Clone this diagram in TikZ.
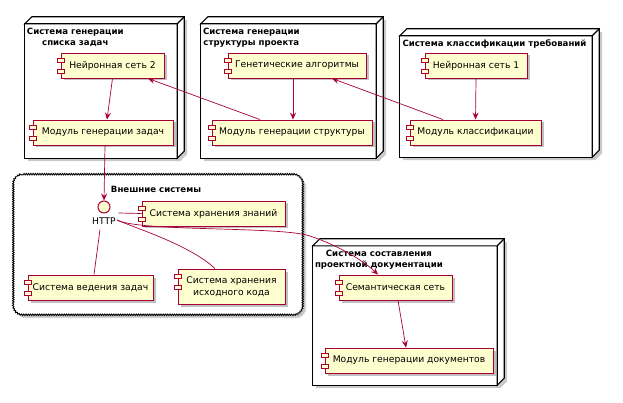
\documentclass[tikz,border=0pt]{standalone}
\usepackage{fontspec}
\setmainfont{DejaVu Sans}
\usetikzlibrary{arrows.meta,shadows,decorations.pathmorphing}
\definecolor{pumlred}{HTML}{A80036}
\definecolor{pumlfill}{HTML}{FEFECE}
\tikzset{
  comp/.style={draw=pumlred, fill=pumlfill, line width=0.9pt, inner sep=0pt,
    font=\fontsize{9.2}{11.5}\selectfont, align=center,
    drop shadow={shadow xshift=2.5pt, shadow yshift=-2.5pt, opacity=0.35, fill=black!70}},
  comprect/.style={draw=pumlred, fill=pumlfill, line width=0.7pt},
  nodebox/.style={draw=none, fill=none, inner sep=0pt},
  nodeface/.style={draw=black, fill=white, line width=1.1pt, line join=miter},
  nodeshadow/.style={fill=black!70, opacity=0.3},
  title/.style={font=\fontsize{8.6}{11}\selectfont\bfseries, align=center, inner sep=0pt, anchor=north west},
  link/.style={draw=pumlred, line width=0.7pt},
  arr/.style={link, -{Stealth[length=7pt,width=6pt,inset=2.5pt]}},
  iface/.style={circle, draw=pumlred, fill=pumlfill, line width=1pt, minimum size=12pt, inner sep=0pt},
  cloudline/.style={decorate, decoration={bumps, segment length=4.5pt, amplitude=1.5pt}},
}
\newcommand\mkcomp[6]{%
  \node[comp, minimum width={#4pt-#2pt}, minimum height={#5pt-#3pt}] (#1) at ({(#2+#4)/2},{(#3+#5)/2}) {#6};
  \draw[comprect] ([shift={(-3pt,-6pt)}]#1.north west) rectangle ++(7pt,-3.6pt);
  \draw[comprect] ([shift={(-3pt,-17pt)}]#1.north west) rectangle ++(7pt,-3.6pt);
}
\newcommand\mknode[5]{%
  \node[nodebox, minimum width={#4pt-#2pt}, minimum height={#5pt-#3pt}] (#1) at ({(#2+#4)/2},{(#3+#5)/2}) {};
  \fill[nodeshadow] ([shift={(3pt,-3pt)}]#1.north west) -- ([shift={(10pt,4pt)}]#1.north west) -- ([shift={(10pt,4pt)}]#1.north east) -- ([shift={(10pt,4pt)}]#1.south east) -- ([shift={(3pt,-3pt)}]#1.south east) -- ([shift={(3pt,-3pt)}]#1.south west) -- cycle;
  \draw[nodeface] (#1.north west) rectangle (#1.south east);
  \draw[nodeface] (#1.north west) -- ++(7pt,7pt) -- ([shift={(7pt,7pt)}]#1.north east) -- ([shift={(7pt,7pt)}]#1.south east) -- (#1.south east) -- (#1.north east) -- cycle;
  \draw[nodeface] (#1.north east) -- ([shift={(7pt,7pt)}]#1.north east);
}
% rounded cloud outline: x1 y1 x2 y2 (y downward), corner radius 9
\newcommand\cloudpath[4]{({#1+9},#2) -- ({#3-9},#2) arc[start angle=90, end angle=0, radius=9pt]
  -- (#3,{#4-9}) arc[start angle=0, end angle=-90, radius=9pt]
  -- ({#1+9},#4) arc[start angle=-90, end angle=-180, radius=9pt]
  -- (#1,{#2+9}) arc[start angle=180, end angle=90, radius=9pt] -- cycle}
\begin{document}
\begin{tikzpicture}[x=1pt, y=-1pt]
\useasboundingbox (0,0) rectangle (623,403);
% deployment nodes
\mknode{n1}{25}{24}{177}{158}
\mknode{n2}{201}{24}{376}{158}
\mknode{n3}{400}{36}{592}{157}
\mknode{n4}{313}{246}{497}{385}
\node[title] (t1) at ([shift={(2pt,-4pt)}]n1.north west) {Система генерации\\списка задач};
\node[title] (t2) at ([shift={(2pt,-4pt)}]n2.north west) {Система генерации\\структуры проекта};
\node[title] (t3) at ([shift={(2.5pt,-4pt)}]n3.north west) {Система классификации требований};
\node[title] (t4) at ([shift={(2pt,-4pt)}]n4.north west) {Система составления\\проектной документации};
% cloud
\fill[nodeshadow, cloudline] \cloudpath{17}{178}{305}{317};
\path[draw=black, line width=0.9pt, fill=white, cloudline] \cloudpath{14}{175}{302}{314};
\node[title, anchor=center] (t5) at (156,189) {Внешние системы};
% components
\mkcomp{c1}{61}{53}{164}{78}{Нейронная сеть 2}
\mkcomp{c2}{33}{120}{173}{145}{Модуль генерации задач}
\mkcomp{c3}{228}{53}{366}{78}{Генетические алгоритмы}
\mkcomp{c4}{212}{120}{372}{145}{Модуль генерации структуры}
\mkcomp{c5}{425}{53}{527}{78}{Нейронная сеть 1}
\mkcomp{c6}{410}{120}{541}{145}{Модуль классификации}
\mkcomp{c7}{142}{201}{285}{226}{Система хранения знаний}
\mkcomp{c8}{28}{275}{153}{300}{Система ведения задач}
\mkcomp{c9}{178}{269}{285}{304}{Система хранения\\исходного кода}
\mkcomp{c10}{339}{275}{452}{300}{Семантическая сеть}
\mkcomp{c11}{325}{348}{493}{373}{Модуль генерации документов}
% interface
\node[iface] (http) at (104,207) {};
\node[font=\fontsize{9.2}{11}\selectfont, inner sep=0pt] (httpl) at (104,221) {HTTP};
% connectors
\draw[arr] (c1.south) -- ([xshift=4pt]c2.north);
\draw[arr] ([xshift=-32pt]c4.north) -- ([xshift=35.5pt]c1.south);
\draw[arr] ([xshift=-4pt]c3.south) -- ([xshift=1pt]c4.north);
\draw[arr] ([xshift=-32.5pt]c6.north) -- ([xshift=35pt]c3.south);
\draw[arr] (c5.south) -- (c6.north);
\draw[arr] ([xshift=2pt]c2.south) -- (http.north);
\draw[link] ([shift={(8pt,-6pt)}]http.east) -- (c7.west);
\draw[link] ([shift={(-4pt,-5pt)}]httpl.south) -- ([xshift=3.5pt]c8.north);
\draw[link] ([shift={(1pt,1pt)}]httpl.east) .. controls (135,228) and (190,245) .. ([xshift=-16.5pt]c9.north);
\draw[arr] ([shift={(1pt,1pt)}]httpl.east) .. controls (140,232) and (280,226) .. (310,236) .. controls (340,246) and (365,262) .. ([xshift=-17.5pt]c10.north);
\draw[arr] ([xshift=2.5pt]c10.south) -- ([xshift=-3pt]c11.north);
\end{tikzpicture}
\end{document}
